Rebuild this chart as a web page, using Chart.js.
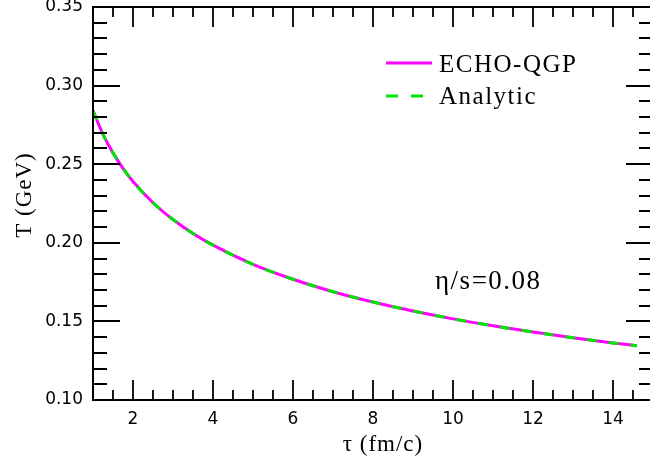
<!DOCTYPE html>
<html>
<head>
<meta charset="utf-8">
<script src="https://cdn.jsdelivr.net/npm/chart.js@4.4.1/dist/chart.umd.min.js"></script>
<style>
  html, body { margin: 0; padding: 0; background: #fff; overflow: hidden; }
  canvas { display: block; }
</style>
</head>
<body>
<canvas id="chart" width="655" height="459"></canvas>
<script>
// values
const tau = [1, 1.25, 1.5, 1.75, 2, 2.5, 3, 3.5, 4, 5, 6, 7, 8, 9, 10, 11, 12, 13, 14, 14.6];
const echoT = [0.2840, 0.2690, 0.2572, 0.2474, 0.2390, 0.2255, 0.2148, 0.2059, 0.1985, 0.1863,
               0.1768, 0.1689, 0.1623, 0.1566, 0.1516, 0.1472, 0.1432, 0.1396, 0.1363, 0.1345];
const analyticT = [0.2840, 0.2690, 0.2572, 0.2474, 0.2390, 0.2255, 0.2148, 0.2059, 0.1985, 0.1863,
                   0.1768, 0.1689, 0.1623, 0.1566, 0.1516, 0.1472, 0.1432, 0.1396, 0.1363, 0.1345];
const xTickLabels = ['2', '4', '6', '8', '10', '12', '14'];
const yTickLabels = ['0.10', '0.15', '0.20', '0.25', '0.30', '0.35'];
const seriesNames = ['ECHO-QGP', 'Analytic'];

const MAGENTA = '#ff00ff';
const GREEN = '#00e600';
const SERIF = '"Liberation Serif", "Times New Roman", serif';

function isMajorX(v) { return xTickLabels.includes(String(v)); }
function isMajorY(v) { return yTickLabels.includes(v.toFixed(2)) && Math.abs(v * 100 - Math.round(v * 100)) < 1e-6; }

// inward ticks on all four sides, frame, legend and texts
const decorations = {
    id: 'decorations',
    afterDraw(chart) {
        const ctx = chart.ctx;
        const a = chart.chartArea;
        const xs = chart.scales.x;
        const ys = chart.scales.y;
        ctx.save();
        ctx.strokeStyle = '#000';
        ctx.lineWidth = 2;
        ctx.strokeRect(a.left, a.top, a.right - a.left, a.bottom - a.top);

        ctx.lineWidth = 1.8;
        ctx.beginPath();
        xs.ticks.forEach(t => {
            const px = Math.round(xs.getPixelForValue(t.value));
            const len = isMajorX(t.value) ? 20 : 10;
            ctx.moveTo(px, a.bottom); ctx.lineTo(px, a.bottom - len);
            ctx.moveTo(px, a.top); ctx.lineTo(px, a.top + len);
        });
        ys.ticks.forEach(t => {
            const py = Math.round(ys.getPixelForValue(t.value));
            const len = isMajorY(t.value) ? 27 : 14;
            ctx.moveTo(a.left, py); ctx.lineTo(a.left + len, py);
            ctx.moveTo(a.right, py); ctx.lineTo(a.right - len, py);
        });
        ctx.stroke();

        // legend
        ctx.lineWidth = 3;
        ctx.strokeStyle = MAGENTA;
        ctx.beginPath(); ctx.moveTo(386, 63); ctx.lineTo(432, 63); ctx.stroke();
        ctx.strokeStyle = GREEN;
        ctx.setLineDash([12, 13]);
        ctx.beginPath(); ctx.moveTo(386, 96); ctx.lineTo(432, 96); ctx.stroke();
        ctx.setLineDash([]);

        ctx.fillStyle = '#000';
        ctx.font = '25px ' + SERIF;
        ctx.letterSpacing = '1.5px';
        ctx.textAlign = 'left';
        ctx.textBaseline = 'alphabetic';
        ctx.fillText(seriesNames[0], 439, 72);
        ctx.fillText(seriesNames[1], 439, 104);

        // annotation
        ctx.font = '27px ' + SERIF;
        ctx.letterSpacing = '1.5px';
        ctx.fillText('η/s=0.08', 435, 289);

        // axis titles
        ctx.font = '23px ' + SERIF;
        ctx.letterSpacing = '1px';
        ctx.textAlign = 'center';
        ctx.fillText('τ (fm/c)', 383, 451);
        ctx.translate(31, 195);
        ctx.rotate(-Math.PI / 2);
        ctx.fillText('T (GeV)', 0, 0);
        ctx.restore();
    }
};

const ctx = document.getElementById('chart').getContext('2d');
new Chart(ctx, {
    type: 'line',
    data: {
        datasets: [{
            label: seriesNames[0],
            data: tau.map((t, i) => ({ x: t, y: echoT[i] })),
            borderColor: MAGENTA,
            borderWidth: 3,
            pointRadius: 0,
            cubicInterpolationMode: 'monotone',
            order: 2
        }, {
            label: seriesNames[1],
            data: tau.map((t, i) => ({ x: t, y: analyticT[i] })),
            borderColor: GREEN,
            borderWidth: 3,
            borderDash: [10, 12],
            pointRadius: 0,
            cubicInterpolationMode: 'monotone',
            order: 1
        }]
    },
    options: {
        responsive: false,
        animation: false,
        devicePixelRatio: 1,
        layout: { padding: { top: 7, right: 2, left: 0, bottom: 0 } },
        plugins: { legend: { display: false }, tooltip: { enabled: false } },
        scales: {
            x: {
                type: 'linear',
                min: 1,
                max: 15,
                grid: { display: false, drawTicks: false },
                border: { display: true, color: '#000', width: 2 },
                ticks: {
                    stepSize: 0.5,
                    autoSkip: false,
                    maxRotation: 0,
                    padding: 9,
                    color: '#000',
                    font: { family: 'DejaVu Sans', size: 17 },
                    callback: v => isMajorX(v) ? String(v) : ''
                },
                afterFit: s => { s.height = 59; s.paddingLeft = 0; s.paddingRight = 0; }
            },
            y: {
                min: 0.10,
                max: 0.35,
                grid: { display: false, drawTicks: false },
                border: { display: true, color: '#000', width: 2 },
                ticks: {
                    stepSize: 0.01,
                    autoSkip: false,
                    padding: 10,
                    color: '#000',
                    font: { family: 'DejaVu Sans', size: 17 },
                    callback: v => isMajorY(v) ? v.toFixed(2) : ''
                },
                afterFit: s => { s.width = 93; s.paddingTop = 0; s.paddingBottom = 0; }
            }
        }
    },
    plugins: [decorations]
});
</script>
</body>
</html>
